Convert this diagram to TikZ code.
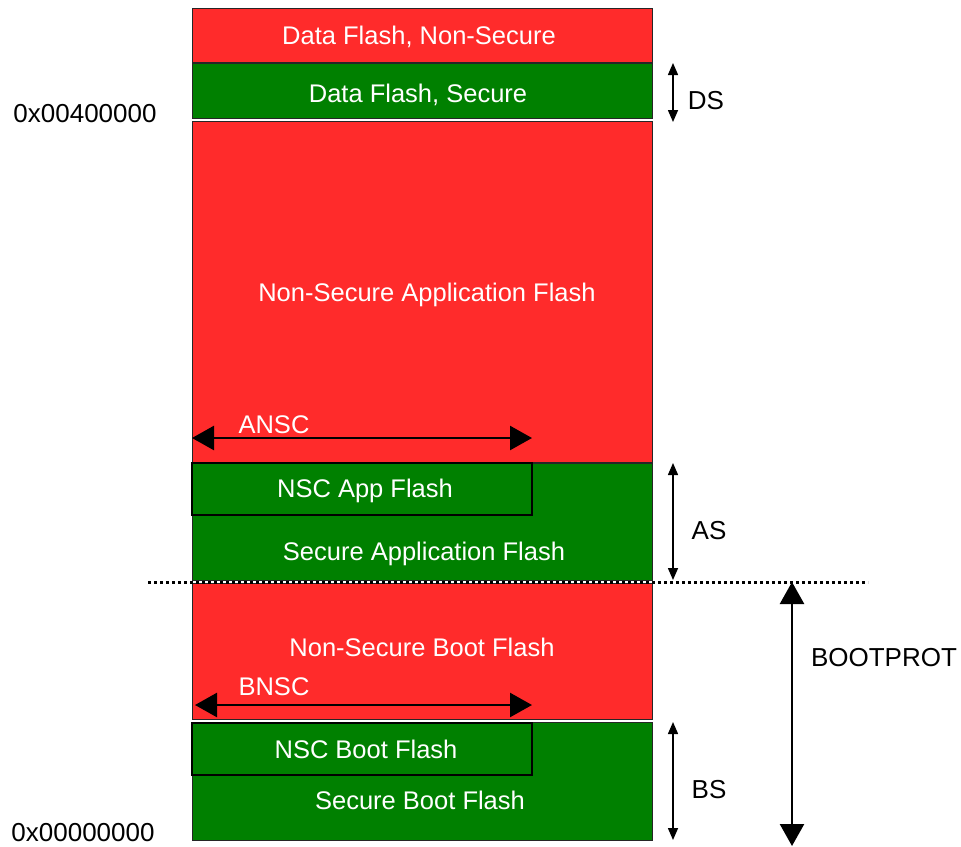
\documentclass[tikz,border=0pt]{standalone}
\usepackage{fontspec}
\setmainfont{Liberation Sans}
\usetikzlibrary{arrows.meta}
\definecolor{secred}{RGB}{255,43,43}
\definecolor{secgreen}{RGB}{0,128,0}
\begin{document}
\begin{tikzpicture}[x=1pt,y=-1pt,
  region/.style={draw=black!85, line width=0.9pt},
  nsreg/.style={region, fill=secred},
  secreg/.style={region, fill=secgreen},
  nscreg/.style={draw=black, line width=1.5pt, fill=secgreen},
  wlabel/.style={text=white, font=\fontsize{25.5}{30}\selectfont, inner sep=0, anchor=base},
  blabel/.style={text=black, font=\fontsize{26}{31}\selectfont, inner sep=0, anchor=base},
  thinarrow/.style={line width=1.5pt, {Triangle[width=10pt,length=12pt]}-{Triangle[width=10pt,length=12pt]}},
  bigarrow/.style={line width=2.5pt, {Triangle[width=24pt,length=22pt]}-{Triangle[width=24pt,length=22pt]}},
  boundary/.style={line width=3pt, dash pattern=on 3pt off 3pt, black},
]
\useasboundingbox (0,0) rectangle (961,846);

% regions
\draw[nsreg]  (192,8)   rectangle (652,62);
\draw[secreg] (192,63)  rectangle (652,118);
\draw[nsreg]  (192,121) rectangle (652,462);
\draw[secreg] (192,463) rectangle (652,580);
\draw[nscreg] (192,463) rectangle (532,515);
\draw[nsreg]  (192,583) rectangle (652,719);
\draw[secreg] (192,722) rectangle (652,840);
\draw[nscreg] (192,723) rectangle (532,775);

% texts in regions
\node[wlabel] (tdfns) at (419,44)  {Data Flash, Non-Secure};
\node[wlabel] (tdfs)  at (418,102) {Data Flash, Secure};
\node[wlabel] (tnsa)  at (427,301) {Non-Secure Application Flash};
\node[wlabel] (tansc) at (274,433) {ANSC};
\node[wlabel] (tnsca) at (365,497) {NSC App Flash};
\node[wlabel] (tsa)   at (424,560) {Secure Application Flash};
\node[wlabel] (tnsb)  at (422,656) {Non-Secure Boot Flash};
\node[wlabel] (tbnsc) at (274,695) {BNSC};
\node[wlabel] (tnscb) at (366,758) {NSC Boot Flash};
\node[wlabel] (tsb)   at (420,809) {Secure Boot Flash};

% outside labels
\node[blabel] (tds)   at (706,109) {DS};
\node[blabel] (tas)   at (709,539) {AS};
\node[blabel] (tbs)   at (709,798) {BS};
\node[blabel] (tbp)   at (884,666) {BOOTPROT};
\node[blabel] (ttop)  at (85,122)  {0x00400000};
\node[blabel] (tbot)  at (83,841)  {0x00000000};

% coordinates for dimension arrows
\coordinate (ds1) at (673,63);  \coordinate (ds2) at (673,122);
\coordinate (as1) at (673,463); \coordinate (as2) at (673,580);
\coordinate (bs1) at (673,722); \coordinate (bs2) at (673,840);
\coordinate (bp1) at (792,582); \coordinate (bp2) at (792,846);
\coordinate (an1) at (192,438); \coordinate (an2) at (532,438);
\coordinate (bn1) at (195,705); \coordinate (bn2) at (532,705);
\coordinate (bl1) at (148,582); \coordinate (bl2) at (868,582);

\draw[boundary] (bl1) -- (bl2);
\draw[thinarrow] (ds1) -- (ds2);
\draw[thinarrow] (as1) -- (as2);
\draw[thinarrow] (bs1) -- (bs2);
\draw[bigarrow] (bp1) -- (bp2);
\draw[bigarrow] (an1) -- (an2);
\draw[bigarrow] (bn1) -- (bn2);
\end{tikzpicture}
\end{document}
